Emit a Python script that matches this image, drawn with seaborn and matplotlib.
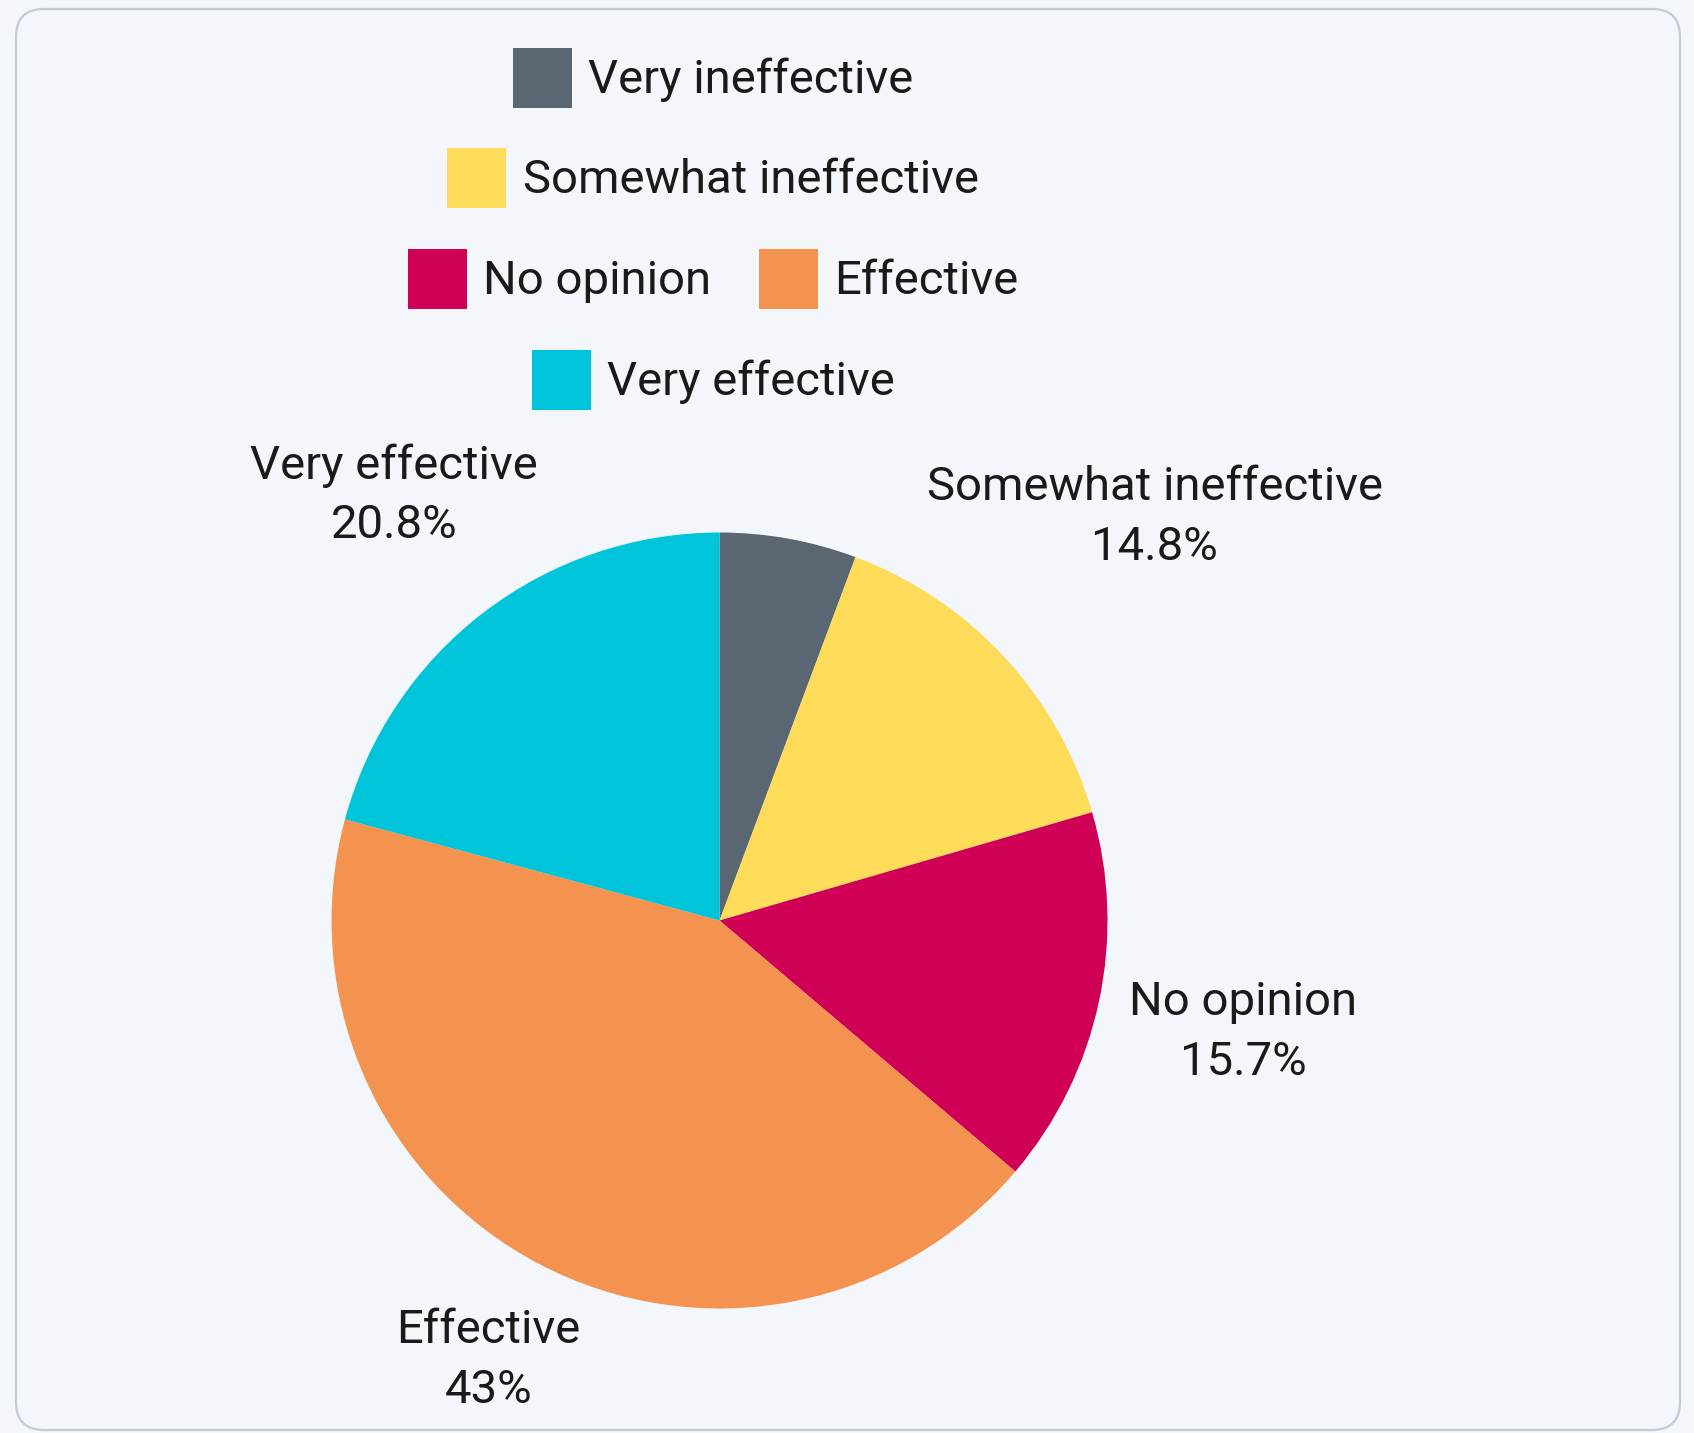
import numpy as np
import matplotlib
matplotlib.use("Agg")
import matplotlib.pyplot as plt
import seaborn as sns
from matplotlib.patches import FancyBboxPatch

# ===== Daten =====
categories = ["Very ineffective", "Somewhat ineffective", "No opinion", "Effective", "Very effective"]
shares = [5.7, 14.8, 15.7, 43, 20.8]
colors = ["#5A6772", "#FEDC5A", "#D10057", "#F4924F", "#00C5DA"]
show_label = [False, True, True, True, True]
label_dist = [1.38, 1.53, 1.38, 1.28, 1.38]
legend_rows = [["Very ineffective"], ["Somewhat ineffective"], ["No opinion", "Effective"], ["Very effective"]]

BG = "#F3F6FB"
FONT = "Roboto"
FS = 34

sns.set_theme(style="white")
plt.rcParams['font.family'] = [FONT, 'DejaVu Sans']

fig = plt.figure(figsize=(16.94, 14.33), dpi=100)
fig.patch.set_facecolor(BG)

# abgerundeter Rahmen
frame = FancyBboxPatch((0.16 + 0.28, 0.03 + 0.28), 16.64 - 0.56, 14.21 - 0.56,
                       boxstyle="round,pad=0.28", transform=fig.dpi_scale_trans,
                       facecolor=BG, edgecolor="#C3CCD5", linewidth=1.6, zorder=-5)
fig.patches.append(frame)

ax = fig.add_axes([0.1957, 0.0869, 0.4581, 0.5415])
ax.set_zorder(2)
ax.set_facecolor("none")
wedges, _ = ax.pie(shares, colors=colors, startangle=90, counterclock=False,
                   radius=1.0, wedgeprops=dict(linewidth=0))
ax.set_xlim(-1, 1)
ax.set_ylim(-1, 1)
ax.set_aspect("equal")
ax.axis("off")

# Beschriftungen ausserhalb
for w, cat, val, show, d in zip(wedges, categories, shares, show_label, label_dist):
    if not show:
        continue
    ang = np.deg2rad((w.theta1 + w.theta2) / 2)
    ax.text(d * np.cos(ang), d * np.sin(ang), f"{cat}\n{val:g}%", ha="center", va="center",
            fontsize=FS, color="#1A1A1A", linespacing=1.45, clip_on=False)

# Legende zeilenweise zentriert
handle_map = dict(zip(categories, wedges))
row_y = [78, 178, 279, 380]
for row, y in zip(legend_rows, row_y):
    leg = fig.legend([handle_map[c] for c in row], row, loc="center",
                     bbox_to_anchor=(0.421, 1 - y / 1433), ncol=len(row), frameon=False,
                     fontsize=FS, handlelength=1.25, handleheight=1.6, handletextpad=0.35,
                     columnspacing=1.0, borderpad=0, borderaxespad=0)
    for t in leg.get_texts():
        t.set_color("#1A1A1A")

fig.savefig("out.png", dpi=100, facecolor=BG)
